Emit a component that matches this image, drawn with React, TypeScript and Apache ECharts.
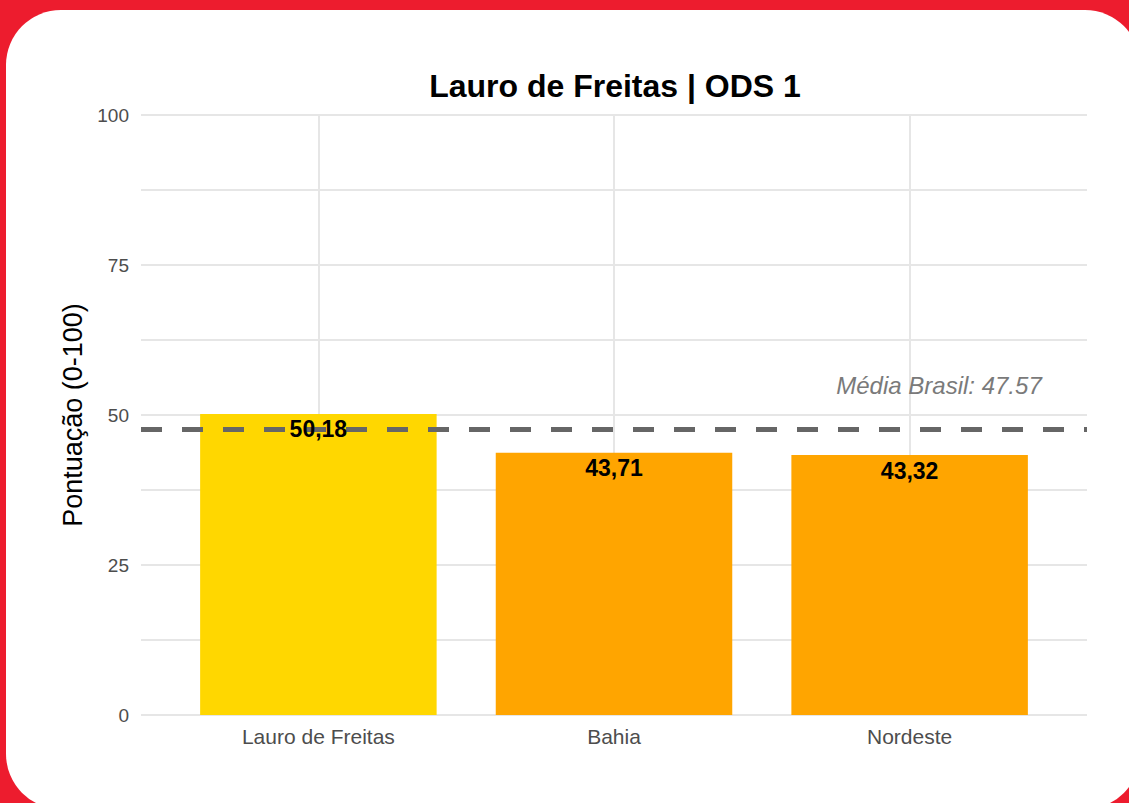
import React, { useEffect, useRef } from "react";
import * as echarts from "echarts";

const categories = ["Lauro de Freitas", "Bahia", "Nordeste"];
const values = [50.18, 43.71, 43.32];
const barColors = ["#FFD700", "#FFA500", "#FFA500"];
const brazilMean = 47.57;
const yLabelTicks = [0, 25, 50, 75, 100];
const titleText = "Lauro de Freitas | ODS 1";
const yAxisTitle = "Pontuação (0-100)";

const FONT = "'Liberation Sans', Arial, Helvetica, sans-serif";

export default function App() {
  const ref = useRef<HTMLDivElement>(null);

  useEffect(() => {
    if (!ref.current) return;
    const chart = echarts.init(ref.current, undefined, { renderer: "svg" });

    const W = 1129;
    const plotLeft = 141;
    const plotRight = 1087;
    // ggplot discrete axis: 0.6 expansion on each side
    const step = (plotRight - plotLeft) / (categories.length - 1 + 1.2);
    const firstCenter = plotLeft + 0.6 * step;
    const lastCenter = firstCenter + (categories.length - 1) * step;
    const gridTop = 115;
    const gridBottom = 803 - 715;

    const option: any = {
      animation: false,
      backgroundColor: "transparent",
      textStyle: { fontFamily: FONT },
      graphic: [
        {
          type: "text",
          x: 615,
          y: 86,
          style: {
            text: titleText,
            font: `bold 32px ${FONT}`,
            fill: "#000",
            textAlign: "center",
            textVerticalAlign: "middle",
          },
        },
        {
          type: "text",
          x: 939,
          y: 385,
          z: 10,
          style: {
            text: `Média Brasil: ${brazilMean}`,
            font: `italic 24px ${FONT}`,
            fill: "#7A7A7A",
            textAlign: "center",
            textVerticalAlign: "middle",
          },
        },
      ],
      grid: [
        { left: plotLeft, right: W - plotRight, top: gridTop, bottom: gridBottom },
        { left: firstCenter, right: W - lastCenter, top: gridTop, bottom: gridBottom },
      ],
      xAxis: [
        {
          gridIndex: 0,
          type: "value",
          min: 0,
          max: 1,
          show: false,
        },
        {
          gridIndex: 1,
          type: "category",
          data: categories,
          boundaryGap: false,
          axisLine: { show: false },
          axisTick: { show: false },
          axisLabel: {
            fontSize: 21,
            color: "#4D4D4D",
            margin: 11,
            fontFamily: FONT,
          },
          splitLine: { show: true, lineStyle: { color: "#E6E6E6", width: 2 } },
        },
      ],
      yAxis: [
        {
          gridIndex: 0,
          type: "value",
          min: 0,
          max: 100,
          interval: 12.5,
          axisLine: { show: false },
          axisTick: { show: false },
          axisLabel: {
            fontSize: 19,
            color: "#4D4D4D",
            margin: 12,
            fontFamily: FONT,
            formatter: (v: number) => (yLabelTicks.includes(v) ? String(v) : ""),
          },
          splitLine: { show: true, lineStyle: { color: "#E6E6E6", width: 2 } },
          name: yAxisTitle,
          nameLocation: "middle",
          nameRotate: 90,
          nameGap: 49,
          nameTextStyle: { fontSize: 27, color: "#000", fontFamily: FONT },
        },
        {
          gridIndex: 1,
          type: "value",
          min: 0,
          max: 100,
          show: false,
        },
      ],
      series: [
        {
          type: "bar",
          xAxisIndex: 1,
          yAxisIndex: 1,
          barWidth: 0.8 * step,
          clip: false,
          z: 2,
          data: values.map((v, i) => ({ value: v, itemStyle: { color: barColors[i] } })),
          label: { show: false },
        },
        {
          type: "line",
          xAxisIndex: 0,
          yAxisIndex: 0,
          data: [],
          z: 5,
          markLine: {
            silent: true,
            symbol: "none",
            label: { show: false },
            lineStyle: { color: "#666666", width: 5, type: [21, 20] },
            data: [{ yAxis: brazilMean }],
          },
        },
        {
          type: "bar",
          xAxisIndex: 1,
          yAxisIndex: 1,
          barWidth: 0.8 * step,
          barGap: "-100%",
          clip: false,
          z: 8,
          data: values,
          itemStyle: { color: "rgba(0,0,0,0)" },
          label: {
            show: true,
            position: "insideTop",
            distance: 4,
            fontSize: 23,
            fontWeight: "bold",
            color: "#000",
            fontFamily: FONT,
            formatter: (p: any) => Number(p.value).toFixed(2).replace(".", ","),
          },
        },
      ],
    };

    chart.setOption(option);
    return () => chart.dispose();
  }, []);

  return (
    <div
      style={{
        position: "fixed",
        left: 0,
        top: 0,
        width: 1129,
        height: 803,
        background: "#ED1C2E",
        overflow: "hidden",
      }}
    >
      <div
        style={{
          position: "absolute",
          left: 6,
          top: 10,
          width: 1134,
          height: 799,
          borderRadius: 55,
          background: "#FFFFFF",
        }}
      />
      <div ref={ref} style={{ position: "absolute", left: 0, top: 0, width: 1129, height: 803 }} />
    </div>
  );
}
